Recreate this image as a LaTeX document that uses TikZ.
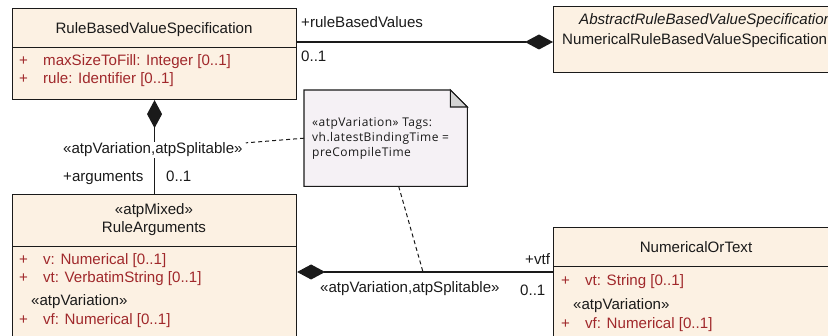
\documentclass[tikz,border=0pt]{standalone}
\usepackage{fontspec}
\setmainfont{Liberation Sans}
\newfontfamily\notefont[LetterSpace=4]{Open Sans}
\usetikzlibrary{arrows.meta,positioning}
\definecolor{clsfill}{HTML}{FCF1E3}
\definecolor{notefill}{HTML}{F5F1F5}
\definecolor{foldfill}{HTML}{D3D3D3}
\definecolor{attr}{HTML}{A0282B}
\definecolor{ink}{HTML}{1A1A1A}
\newcommand\attrow[1]{\makebox[24pt][l]{+}#1}
\tikzset{
  every picture/.style={x=1pt, y=-1pt, line join=miter},
  cls/.style={draw=ink, fill=clsfill, line width=1.1pt, inner sep=0pt, anchor=north west},
  sep/.style={draw=ink, line width=0.9pt},
  notebox/.style={draw=ink, fill=notefill, line width=1.1pt},
  fold/.style={draw=ink, fill=foldfill, line width=1.1pt},
  txt/.style={font=\fontsize{15.1}{17}\selectfont, text=ink, inner sep=0pt, anchor=base west},
  ctxt/.style={txt, anchor=base},
  atxt/.style={txt, text=attr},
  ntxt/.style={font=\notefont\fontsize{12}{15}\selectfont, text=ink, inner sep=0pt, anchor=base west},
  comp/.style={{Diamond[length=28pt,width=15pt]}-, draw=ink, line width=1.1pt},
  tie/.style={draw=ink, line width=1pt, dash pattern=on 4pt off 3pt},
}

\begin{document}
\begin{tikzpicture}
  \useasboundingbox (0,0) rectangle (828,336);
  \clip (0,0) rectangle (828,336);

  % ---------------- RuleBasedValueSpecification ----------------
  \node[cls, minimum width=284pt, minimum height=91pt] (rbvs) at (12,8) {};
  \draw[sep] ([yshift=-39pt]rbvs.north west) -- ([yshift=-39pt]rbvs.north east);
  \node[ctxt] (rbvsname) at (154,34) {RuleBasedValueSpecification};
  \node[atxt] (rbvsmax) at (19,66) {\attrow{maxSizeToFill: Integer [0..1]}};
  \node[atxt] (rbvsrule) at (19,84) {\attrow{rule: Identifier [0..1]}};

  % ---------------- AbstractRuleBasedValueSpecification ----------------
  \node[cls, minimum width=300pt, minimum height=66pt] (abs) at (553,6) {};
  \node[txt, font=\fontsize{15.1}{17}\selectfont\itshape] (absname) at (579,25) {AbstractRuleBasedValueSpecification};
  \node[txt] (absnum) at (562,45) {NumericalRuleBasedValueSpecification};

  % ---------------- RuleArguments ----------------
  \node[cls, minimum width=284pt, minimum height=160pt] (args) at (12,194) {};
  \draw[sep] ([yshift=-52pt]args.north west) -- ([yshift=-52pt]args.north east);
  \node[ctxt] (argsstereo) at (154,215) {«atpMixed»};
  \node[ctxt] (argsname) at (154,233) {RuleArguments};
  \node[atxt] (argsv) at (19,265) {\attrow{v: Numerical [0..1]}};
  \node[atxt] (argsvt) at (19,283) {\attrow{vt: VerbatimString [0..1]}};
  \node[txt] (argsvar) at (31,306) {«atpVariation»};
  \node[atxt] (argsvf) at (19,325) {\attrow{vf: Numerical [0..1]}};

  % ---------------- NumericalOrText ----------------
  \node[cls, minimum width=300pt, minimum height=140pt] (nort) at (553,227) {};
  \draw[sep] ([yshift=-39pt]nort.north west) -- ([yshift=-39pt]nort.north east);
  \node[ctxt] (nortname) at (696,253) {NumericalOrText};
  \node[atxt] (nortvt) at (561,286) {\attrow{vt: String [0..1]}};
  \node[txt] (nortvar) at (573,310) {«atpVariation»};
  \node[atxt] (nortvf) at (561,329) {\attrow{vf: Numerical [0..1]}};

  % ---------------- note ----------------
  \node[minimum width=163pt, minimum height=96pt, inner sep=0pt, anchor=north west] (note) at (304,90) {};
  \draw[notebox] (note.north west) -- ([xshift=-17pt]note.north east) -- ([yshift=-17pt]note.north east)
    -- (note.south east) -- (note.south west) -- cycle;
  \draw[fold] ([xshift=-17pt]note.north east) -- ([xshift=-17pt,yshift=-17pt]note.north east)
    -- ([yshift=-17pt]note.north east) -- cycle;
  \node[ntxt] (notel1) at (312,127) {«atpVariation» Tags:};
  \node[ntxt] (notel2) at (312,142) {vh.latestBindingTime =};
  \node[ntxt] (notel3) at (312,157) {preCompileTime};

  % ---------------- compositions ----------------
  \draw[comp] ([yshift=-36pt]abs.north west) -- ([yshift=-34pt]rbvs.north east);
  \node[txt] (rbvrole) at (301,28) {+ruleBasedValues};
  \node[txt] (rbvmult) at (301,62) {0..1};

  \draw[comp] (rbvs.south) -- (args.north);
  \node[txt, fill=white, inner ysep=1pt] (argstereo) at (63,154) {«atpVariation,atpSplitable»};
  \node[txt] (argrole) at (63,182) {+arguments};
  \node[txt] (argmult) at (166,182) {0..1};

  \draw[comp] ([yshift=-78pt]args.north east) -- ([yshift=-45pt]nort.north west);
  \node[txt] (vtfstereo) at (320,293) {«atpVariation,atpSplitable»};
  \node[txt] (vtfrole) at (525,265) {+vtf};
  \node[txt] (vtfmult) at (520,296) {0..1};

  % ---------------- note links ----------------
  \coordinate (vtfhook) at (423,272);
  \draw[tie] (note.west) -- ([xshift=3pt,yshift=-1pt]argstereo.north east);
  \draw[tie] ([xshift=13pt]note.south) -- (vtfhook);
\end{tikzpicture}
\end{document}
